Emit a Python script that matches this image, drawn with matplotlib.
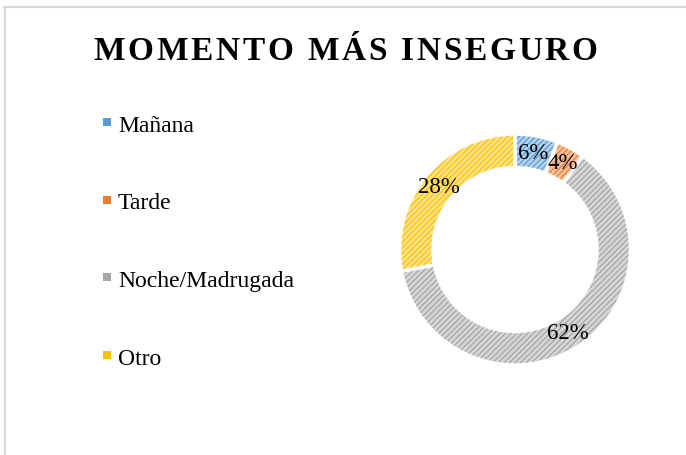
import matplotlib
matplotlib.use("Agg")
import matplotlib.pyplot as plt
from matplotlib.patches import Wedge, Rectangle
from matplotlib.lines import Line2D
import numpy as np

categories = ["Mañana", "Tarde", "Noche/Madrugada", "Otro"]
values = [6, 4, 62, 28]
labels = ["6%", "4%", "62%", "28%"]
colors = ["#5B9BD5", "#ED7D31", "#A5A5A5", "#FFC000"]
title = "MOMENTO MÁS INSEGURO"

W, H = 686, 456
DPI = 100
plt.rcParams['hatch.linewidth'] = 0.9
fig = plt.figure(figsize=(W / DPI, H / DPI), dpi=DPI)
fig.patch.set_facecolor("white")
serif = "Liberation Serif"

def fx(px):
    return px / W

def fy(py):
    return 1 - py / H

# border lines
fig.add_artist(Line2D([fx(4), fx(686)], [fy(7.5), fy(7.5)], color="#D9D9D9", lw=1.5))
fig.add_artist(Line2D([fx(5), fx(5)], [fy(7.5), fy(456)], color="#D9D9D9", lw=1.5))

# donut axes
cx, cy, R = 515, 250.5, 115.5
half = 130
ax = fig.add_axes([fx(cx - half), fy(cy + half), 2 * half / W, 2 * half / H])
ax.set_xlim(-half / R, half / R)
ax.set_ylim(-half / R, half / R)
ax.set_aspect("equal")
ax.axis("off")

def tint(c, f=0.55):
    rgb = np.array(matplotlib.colors.to_rgb(c))
    return tuple(rgb + (1 - rgb) * f)

width = 0.29
total = sum(values)
start = 90.0
for v, c, lab in zip(values, colors, labels):
    sweep = v / total * 360
    t1, t2 = start - sweep, start
    w = Wedge((0, 0), 1.0, t1, t2, width=width, facecolor=tint(c), edgecolor=c,
              linewidth=0, hatch="//////")
    ax.add_patch(w)
    wo = Wedge((0, 0), 1.0, t1, t2, width=width, fill=False, edgecolor="white", linewidth=2.5)
    ax.add_patch(wo)
    mid = np.deg2rad((t1 + t2) / 2)
    rm = 1 - width / 2
    ax.text(rm * np.cos(mid), rm * np.sin(mid), lab, ha="center", va="center",
            fontsize=16.5, family=serif, color="black")
    start = t1

# legend
for i, (cat, c) in enumerate(zip(categories, colors)):
    sy = 123 + i * 77.7
    by = 131.7 + i * 77.7
    fig.add_artist(Rectangle((fx(103), fy(sy + 4)), 8 / W, 8 / H, facecolor=c, edgecolor="none"))
    fig.text(fx(118), fy(by), cat, ha="left", va="baseline", fontsize=17, family=serif, color="black")

# title with letter spacing
renderer = fig.canvas.get_renderer()
fs = 24
spacing = 2.6
widths = []
for ch in title:
    t = fig.text(0, 0, ch if ch != " " else "n", fontsize=fs, family=serif, weight="bold")
    bb = t.get_window_extent(renderer)
    widths.append(bb.width if ch != " " else bb.width * 0.5)
    t.remove()
totw = sum(widths) + spacing * (len(title) - 1)
x = 345.5 - totw / 2
for ch, wd in zip(title, widths):
    if ch != " ":
        fig.text(fx(x), fy(60), ch, ha="left", va="baseline", fontsize=fs, family=serif,
                 weight="bold", color="black")
    x += wd + spacing

fig.savefig("out.png", dpi=DPI, facecolor="white")
